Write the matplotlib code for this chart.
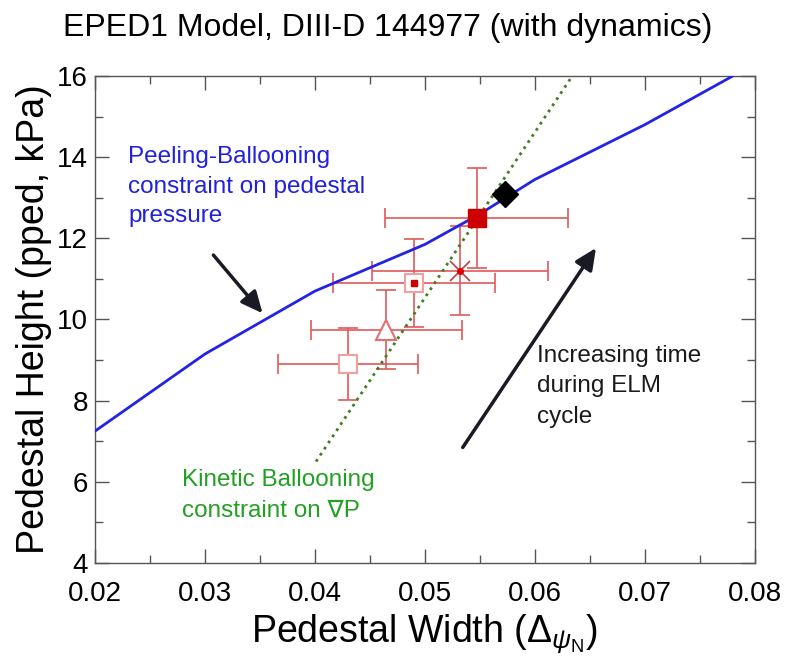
import matplotlib
matplotlib.use("Agg")
import matplotlib.pyplot as plt
from matplotlib.ticker import MultipleLocator, FuncFormatter

plt.rcParams['font.family'] = ['Liberation Sans', 'DejaVu Sans']
plt.rcParams['mathtext.fontset'] = 'custom'
plt.rcParams['mathtext.rm'] = 'Liberation Sans'
plt.rcParams['mathtext.it'] = 'Liberation Sans:italic'

# Peeling-ballooning constraint (blue)
pb_x = [0.02, 0.03, 0.04, 0.05, 0.055, 0.06, 0.07, 0.078]
pb_y = [7.25, 9.15, 10.7, 11.85, 12.6, 13.45, 14.8, 16.0]

# Kinetic ballooning constraint (green dotted)
kb_x = [0.0401, 0.0634]
kb_y = [6.5, 16.0]

# Measured points with error bars
pts_x = [0.0430, 0.0465, 0.0490, 0.0532, 0.0547]
pts_y = [8.9, 9.75, 10.9, 11.2, 12.5]
pts_xerr = [0.0064, 0.0069, 0.0074, 0.0080, 0.0083]
pts_yerr = [0.88, 0.97, 1.08, 1.10, 1.23]

# EPED1 prediction (black diamond)
pred_x = [0.0573]
pred_y = [13.1]

fig = plt.figure(figsize=(7.92, 6.58), dpi=100)
ax = fig.add_axes([0.12, 0.1444, 0.833, 0.7401])

ebc = '#e05a5a'
ax.plot(pb_x, pb_y, color='#2323e6', lw=2, zorder=3)
ax.plot(kb_x, kb_y, color='#3f7f1f', lw=2, ls=':', zorder=3)

ax.errorbar(pts_x, pts_y, xerr=pts_xerr, yerr=pts_yerr, fmt='none',
            ecolor=ebc, elinewidth=1.2, capsize=7, capthick=1.2, zorder=2)

# markers
ax.plot(pts_x[0], pts_y[0], 's', ms=13, mfc='white', mec='#f0a0a0', mew=1.5, zorder=4)
ax.plot(pts_x[1], pts_y[1], '^', ms=15, mfc='white', mec='#e07070', mew=1.5, zorder=4)
ax.plot(pts_x[2], pts_y[2], 's', ms=13, mfc='white', mec='#f0a0a0', mew=1.5, zorder=4)
ax.plot(pts_x[2], pts_y[2], 's', ms=5, mfc='#cc0000', mec='#cc0000', zorder=5)
ax.plot(pts_x[3], pts_y[3], 'x', ms=15, mec='#c04040', mew=1.2, zorder=4)
ax.plot(pts_x[3], pts_y[3], 'o', ms=4, mfc='#dd0000', mec='#dd0000', zorder=5)
ax.plot(pts_x[4], pts_y[4], 's', ms=13, mfc='#cc0000', mec='#cc0000', zorder=5)
ax.plot(pred_x, pred_y, 'D', ms=13, mfc='black', mec='black', zorder=6)

# arrows
ax.annotate('', xy=(0.0354, 10.1), xytext=(0.0306, 11.64),
            arrowprops=dict(arrowstyle='-|>,head_length=1.3,head_width=0.6',
                            color='#1a1a24', lw=2.5))
ax.annotate('', xy=(0.0657, 11.82), xytext=(0.0533, 6.79),
            arrowprops=dict(arrowstyle='-|>,head_length=1.3,head_width=0.6',
                            color='#1a1a24', lw=2.5))

ax.text(0.0230, 13.27, 'Peeling-Ballooning\nconstraint on pedestal\npressure',
        color='#2020dd', fontsize=17.5, ha='left', va='center', linespacing=1.45)
ax.text(0.0279, 5.66, 'Kinetic Ballooning\nconstraint on \u2207P',
        color='#22a022', fontsize=17.5, ha='left', va='center', linespacing=1.5)
ax.text(0.0602, 8.36, 'Increasing time\nduring ELM\ncycle',
        color='#1a1a1a', fontsize=17.5, ha='left', va='center', linespacing=1.5)

ax.set_xlim(0.02, 0.08)
ax.set_ylim(4, 16)
ax.xaxis.set_major_locator(MultipleLocator(0.01))
ax.xaxis.set_minor_locator(MultipleLocator(0.005))
ax.yaxis.set_major_locator(MultipleLocator(2))
ax.yaxis.set_minor_locator(MultipleLocator(1))
ax.xaxis.set_major_formatter(FuncFormatter(lambda v, p: f'{v:.2f}'))
ax.tick_params(which='both', direction='in', top=True, right=True, color='#555555')
ax.tick_params(which='major', length=10, width=1, labelsize=20)
ax.tick_params(axis='x', which='major', pad=13)
ax.tick_params(axis='y', which='major', pad=5)
ax.tick_params(which='minor', length=6, width=1)
for s in ax.spines.values():
    s.set_color('#555555')
    s.set_linewidth(1)

ax.set_xlabel(r'Pedestal Width ($\Delta_{\psi_{\rm N}}$)', fontsize=27, labelpad=4)
ax.set_ylabel('Pedestal Height (pped, kPa)', fontsize=27, labelpad=4)
fig.text(0.49, 0.958, 'EPED1 Model, DIII-D 144977 (with dynamics)',
         fontsize=23, ha='center', va='center')

fig.savefig('out.png', dpi=100)
